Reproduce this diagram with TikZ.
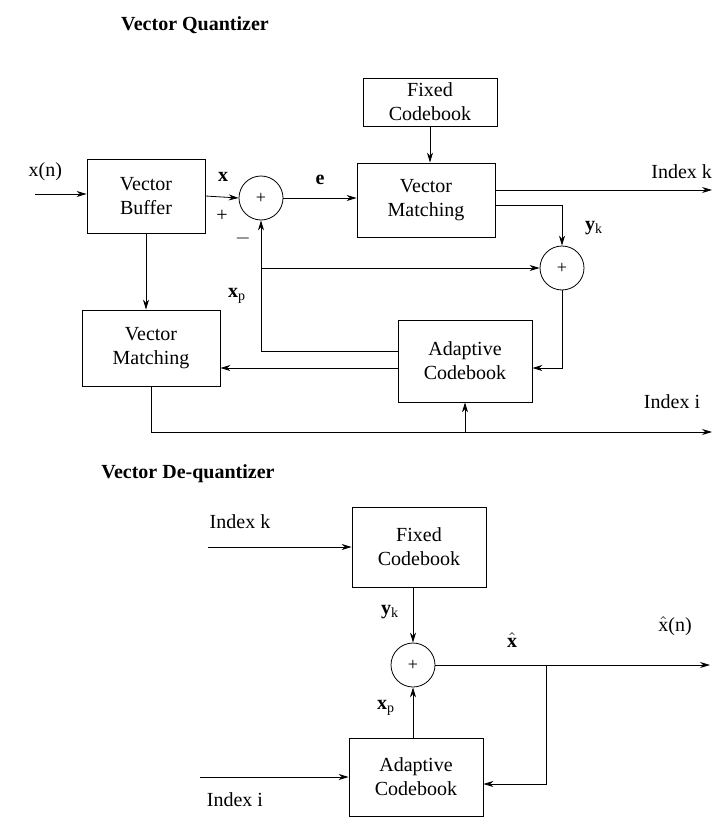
\documentclass[tikz,border=0pt]{standalone}
\usepackage{amsmath}
\usepackage{fontspec}
\setmainfont{Liberation Serif}
\usepackage{tikz}
\usetikzlibrary{positioning,calc,arrows.meta}
\tikzset{BLOCK/.style={rectangle,draw,thin,align=center,minimum width=67pt,inner sep=2pt}}
\tikzset{ADDER/.style={circle,draw,thin,minimum size=22pt,inner sep=0pt,font=\small}}
\tikzset{ARROW/.style={thin, -{Stealth[length=5pt,width=3pt]}}}
\tikzset{TITLE/.style={font=\bfseries}}

\begin{document}
\begin{tikzpicture}[x=0.5pt,y=-0.5pt]
\useasboundingbox (0,0) rectangle (714,818);

% Vector Quantizer
\node[TITLE] (n_title_q) at (195,25) {Vector Quantizer};

\node[BLOCK, minimum height=24pt] (n_fixed) at (430,102) {Fixed\\Codebook};
\node[BLOCK, minimum width=69pt, minimum height=37pt] (n_vmatch) at (426,200) {Vector\\Matching};
\node[BLOCK, minimum width=59pt, minimum height=37pt] (n_buffer) at (146,196) {Vector\\Buffer};
\node[ADDER] (n_sum) at (261,198) {+};
\node[ADDER] (n_sum2) at (562,268) {+};
\node[BLOCK, minimum height=41pt] (n_adapt) at (465,361) {Adaptive\\Codebook};
\node[BLOCK, minimum width=69pt, minimum height=38pt] (n_vmatch2) at (151,348) {Vector\\Matching};

\coordinate (c_in) at (35,194);
\draw[ARROW] (c_in) -- (c_in -| n_buffer.west) node[pos=0.2,above=3pt]{x(n)};
\draw[ARROW] (n_buffer.east) -- (n_sum.west);
\node at (223,177) {\textbf{x}};
\node at (222,216) {+};
\node at (243,238) {$-$};
\draw[ARROW] (n_sum.east) -- (n_sum.east -| n_vmatch.west) node[midway,above=3pt]{\textbf{e}};
\draw[ARROW] (n_fixed.south) -- (n_fixed.south |- n_vmatch.north);

\coordinate (c_idxk) at ($(n_vmatch.east)+(0,-10)$);
\draw[ARROW] (c_idxk) -- (712,190) node[pos=0.86,above=2pt]{Index k};
\draw[ARROW] ($(n_vmatch.east)+(0,5)$) -| (n_sum2.north);
\node at (594,228) {\textbf{y}\textsubscript{k}};

\draw[ARROW] (n_sum2.south) |- ($(n_adapt.east)+(0,7)$);
\draw[ARROW] ($(n_adapt.west)+(0,-10)$) -| (n_sum.south);
\coordinate (c_branch) at (n_sum.south |- n_sum2.west);
\draw[ARROW] (c_branch) -- (n_sum2.west);
\node at (237,296) {\textbf{x}\textsubscript{p}};

\draw[ARROW] (n_adapt.west |- n_vmatch2.east) ++(0,20) coordinate (c_adapt_out) -- (c_adapt_out -| n_vmatch2.east);
\draw[ARROW] (n_buffer.south) -- (n_buffer.south |- n_vmatch2.north);

\coordinate (c_idxi) at (712,432);
\draw[ARROW] (n_vmatch2.south) |- (c_idxi);
\node at (672,402) {Index i};
\draw[ARROW] (n_adapt.south |- c_idxi) -- (n_adapt.south);

% Vector De-quantizer
\node[TITLE] (n_title_d) at (188,474) {Vector De-quantizer};

\node[BLOCK, minimum height=40pt] (n_fixed_d) at (419,547) {Fixed\\Codebook};
\node[ADDER] (n_sum_d) at (413,665) {+};
\node[BLOCK, minimum height=39pt] (n_adapt_d) at (416,777) {Adaptive\\Codebook};

\coordinate (c_idxk_d) at (208,547);
\draw[ARROW] (c_idxk_d) -- (n_fixed_d.west);
\node at (240,522) {Index k};
\draw[ARROW] (n_fixed_d.south -| n_sum_d) -- (n_sum_d.north);
\node at (390,612) {\textbf{y}\textsubscript{k}};
\draw[ARROW] (n_adapt_d.north -| n_sum_d) -- (n_sum_d.south);
\node at (386,708) {\textbf{x}\textsubscript{p}};

\coordinate (c_out) at (710,665);
\draw[ARROW] (n_sum_d.east) -- (c_out);
\node at (512,640) {$\hat{\text{\textbf{x}}}$};
\node at (675,626) {$\hat{\text{x}}$(n)};
\coordinate (c_tap) at (546,665);
\draw[ARROW] (c_tap) |- ($(n_adapt_d.east)+(0,7)$);

\coordinate (c_idxi_d) at (200,777);
\draw[ARROW] (c_idxi_d) -- (n_adapt_d.west);
\node at (235,800) {Index i};

\end{tikzpicture}
\end{document}
